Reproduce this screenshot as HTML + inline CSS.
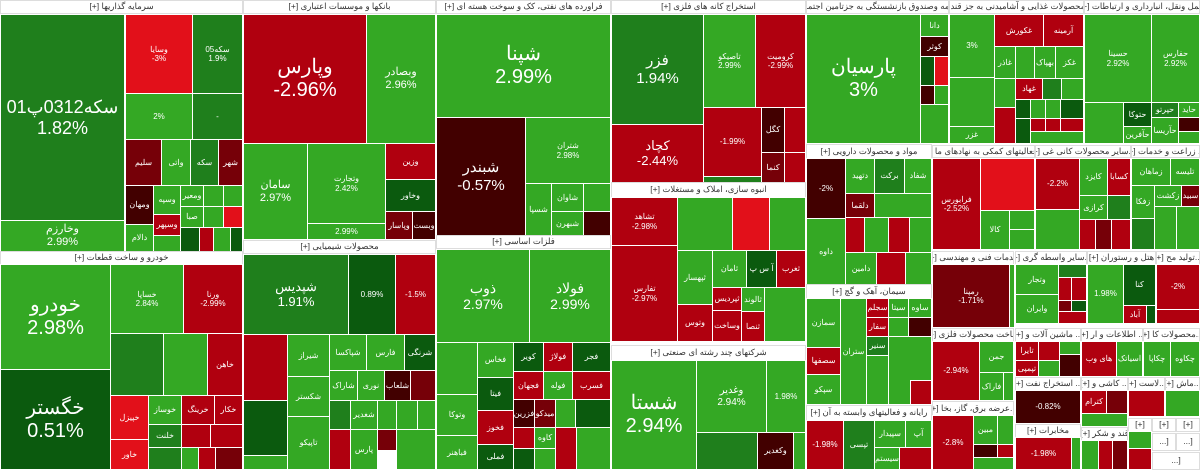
<!DOCTYPE html>
<html><head><meta charset="utf-8"><style>
body{margin:0;width:1200px;height:470px;overflow:hidden;background:#fff;position:relative;font-family:"Liberation Sans","Noto Sans CJK SC",sans-serif}
div{position:absolute;box-sizing:border-box;border:1px solid #fff;color:#fff;display:flex;align-items:center;justify-content:center;text-align:center;overflow:hidden;font-size:8px;line-height:1.15;direction:ltr}
.h{background:#fff;color:#333;font-size:8.5px;border:1px solid #ddd;white-space:nowrap;direction:rtl}
.G{background:#34a824}.g2{background:#1f7f1c}.g3{background:#0b5a0e}
.R{background:#b0000f}.R2{background:#e2101a}.r3{background:#760008}.r4{background:#420000}
.b{font-size:20px}.m{font-size:11px}
</style></head><body>
<!-- col1 -->
<div class="h" style="left:0;top:0;width:243px;height:14px">سرمایه گذاریها [+]</div>
<div class="g2 b" style="left:0;top:14px;width:125px;height:207px;font-size:18px">سکه0312پ01<br>1.82%</div>
<div class="G m" style="left:0;top:220px;width:125px;height:32px">وخارزم<br>2.99%</div>
<div class="R2" style="left:125px;top:14px;width:68px;height:80px">وسایا<br>-3%</div>
<div class="g2" style="left:192px;top:14px;width:51px;height:80px">سکه05<br>1.9%</div>
<div class="G" style="left:125px;top:93px;width:68px;height:47px">2%</div>
<div class="g2" style="left:192px;top:93px;width:51px;height:47px">-</div>
<div class="r3" style="left:125px;top:139px;width:37px;height:47px">سلیم</div>
<div class="G" style="left:161px;top:139px;width:30px;height:47px">واتی</div>
<div class="g2" style="left:190px;top:139px;width:29px;height:47px">سکه</div>
<div class="r3" style="left:218px;top:139px;width:25px;height:47px">شهر</div>
<div class="r4" style="left:125px;top:185px;width:29px;height:40px">ومهان</div>
<div class="G" style="left:125px;top:224px;width:29px;height:28px">دالام</div>
<div class="G" style="left:153px;top:185px;width:28px;height:30px">وسپه</div>
<div class="R" style="left:153px;top:214px;width:28px;height:22px">وسپهر</div>
<div class="G" style="left:153px;top:235px;width:28px;height:17px"></div>
<div class="G" style="left:180px;top:185px;width:24px;height:22px">ومعیر</div>
<div class="G" style="left:203px;top:185px;width:21px;height:22px"></div>
<div class="G" style="left:223px;top:185px;width:20px;height:22px"></div>
<div class="G" style="left:180px;top:206px;width:24px;height:22px">صبا</div>
<div class="G" style="left:203px;top:206px;width:21px;height:22px"></div>
<div class="R2" style="left:223px;top:206px;width:20px;height:22px"></div>
<div class="g3" style="left:180px;top:227px;width:20px;height:25px"></div>
<div class="R" style="left:199px;top:227px;width:15px;height:25px"></div>
<div class="G" style="left:213px;top:227px;width:18px;height:25px"></div>
<div class="g3" style="left:230px;top:227px;width:13px;height:25px"></div>
<div class="h" style="left:0;top:251px;width:243px;height:14px">خودرو و ساخت قطعات [+]</div>
<div class="G b" style="left:0;top:264px;width:111px;height:106px">خودرو<br>2.98%</div>
<div class="g3 b" style="left:0;top:369px;width:111px;height:101px">خگستر<br>0.51%</div>
<div class="G" style="left:110px;top:264px;width:74px;height:70px">خساپا<br>2.84%</div>
<div class="R" style="left:183px;top:264px;width:60px;height:70px">ورنا<br>-2.99%</div>
<div class="g2" style="left:110px;top:333px;width:54px;height:63px"></div>
<div class="G" style="left:163px;top:333px;width:45px;height:63px"></div>
<div class="R" style="left:207px;top:333px;width:36px;height:63px">خاهن</div>
<div class="R2" style="left:110px;top:395px;width:39px;height:45px">خپیزل</div>
<div class="R2" style="left:110px;top:439px;width:39px;height:31px">خاور</div>
<div class="G" style="left:148px;top:395px;width:34px;height:30px">خوساز</div>
<div class="R" style="left:181px;top:395px;width:34px;height:30px">خرینگ</div>
<div class="R" style="left:214px;top:395px;width:29px;height:30px">خکار</div>
<div class="g2" style="left:148px;top:424px;width:34px;height:24px">خلنت</div>
<div class="R" style="left:181px;top:424px;width:30px;height:24px"></div>
<div class="R" style="left:210px;top:424px;width:33px;height:24px"></div>
<div class="g2" style="left:148px;top:447px;width:34px;height:23px"></div>
<div class="G" style="left:181px;top:447px;width:18px;height:23px"></div>
<div class="R" style="left:198px;top:447px;width:18px;height:23px"></div>
<div class="r3" style="left:215px;top:447px;width:28px;height:23px"></div>
<!-- col2 -->
<div class="h" style="left:243px;top:0;width:193px;height:14px">بانکها و موسسات اعتباری [+]</div>
<div class="R b" style="left:243px;top:14px;width:124px;height:130px">وپارس<br>-2.96%</div>
<div class="G m" style="left:366px;top:14px;width:70px;height:130px">وبصادر<br>2.96%</div>
<div class="G m" style="left:243px;top:143px;width:65px;height:97px">سامان<br>2.97%</div>
<div class="G" style="left:307px;top:143px;width:79px;height:81px">وتجارت<br>2.42%</div>
<div class="G" style="left:307px;top:223px;width:79px;height:17px">2.99%</div>
<div class="R" style="left:385px;top:143px;width:51px;height:37px">وزین</div>
<div class="g3" style="left:385px;top:179px;width:51px;height:33px">وخاور</div>
<div class="r3" style="left:385px;top:211px;width:28px;height:29px">وپاسار</div>
<div class="r4" style="left:412px;top:211px;width:24px;height:29px">وبست</div>
<div class="h" style="left:243px;top:240px;width:193px;height:14px">محصولات شیمیایی [+]</div>
<div class="g2" style="left:243px;top:254px;width:106px;height:81px;font-size:13px">شپدیس<br>1.91%</div>
<div class="g3" style="left:348px;top:254px;width:48px;height:81px">0.89%</div>
<div class="R" style="left:395px;top:254px;width:41px;height:81px">-1.5%</div>
<div class="R" style="left:243px;top:334px;width:45px;height:67px"></div>
<div class="g3" style="left:243px;top:400px;width:45px;height:56px"></div>
<div class="G" style="left:243px;top:455px;width:45px;height:15px"></div>
<div class="G" style="left:287px;top:334px;width:43px;height:43px">شیراز</div>
<div class="G" style="left:287px;top:376px;width:43px;height:41px">شکستر</div>
<div class="G" style="left:287px;top:416px;width:43px;height:54px">تاپیکو</div>
<div class="G" style="left:329px;top:334px;width:38px;height:37px">شپاکسا</div>
<div class="G" style="left:366px;top:334px;width:39px;height:37px">فارس</div>
<div class="g3" style="left:404px;top:334px;width:32px;height:37px">شرنگی</div>
<div class="G" style="left:329px;top:370px;width:29px;height:31px">شاراک</div>
<div class="G" style="left:357px;top:370px;width:28px;height:31px">نوری</div>
<div class="r4" style="left:384px;top:370px;width:27px;height:31px">شلعاب</div>
<div class="r3" style="left:410px;top:370px;width:26px;height:31px"></div>
<div class="g2" style="left:329px;top:400px;width:22px;height:30px"></div>
<div class="G" style="left:350px;top:400px;width:28px;height:30px">شغدیر</div>
<div class="G" style="left:377px;top:400px;width:20px;height:30px"></div>
<div class="G" style="left:396px;top:400px;width:22px;height:30px"></div>
<div class="G" style="left:417px;top:400px;width:19px;height:30px"></div>
<div class="R" style="left:329px;top:429px;width:22px;height:41px"></div>
<div class="G" style="left:350px;top:429px;width:28px;height:41px">پارس</div>
<div class="r3" style="left:377px;top:429px;width:20px;height:22px"></div>
<div class="G" style="left:396px;top:429px;width:40px;height:41px"></div>
<!-- col3 -->
<div class="h" style="left:436px;top:0;width:175px;height:14px">فراورده های نفتی، کک و سوخت هسته ای [+]</div>
<div class="G b" style="left:436px;top:14px;width:175px;height:104px">شپنا<br>2.99%</div>
<div class="r4" style="left:436px;top:117px;width:90px;height:119px;font-size:15px">شبندر<br>-0.57%</div>
<div class="G" style="left:525px;top:117px;width:86px;height:67px">شتران<br>2.98%</div>
<div class="G" style="left:525px;top:183px;width:27px;height:53px">شسپا</div>
<div class="G" style="left:551px;top:183px;width:33px;height:29px">شاوان</div>
<div class="G" style="left:551px;top:211px;width:33px;height:25px">شبهرن</div>
<div class="G" style="left:583px;top:183px;width:28px;height:29px"></div>
<div class="r4" style="left:583px;top:211px;width:28px;height:25px"></div>
<div class="h" style="left:436px;top:235px;width:175px;height:14px">فلزات اساسی [+]</div>
<div class="G" style="left:436px;top:249px;width:94px;height:94px;font-size:14px">ذوب<br>2.97%</div>
<div class="G" style="left:529px;top:249px;width:82px;height:94px;font-size:14px">فولاد<br>2.99%</div>
<div class="G" style="left:436px;top:342px;width:42px;height:53px"></div>
<div class="G" style="left:436px;top:394px;width:42px;height:42px">وتوکا</div>
<div class="G" style="left:436px;top:435px;width:42px;height:35px">فباهنر</div>
<div class="G" style="left:477px;top:342px;width:37px;height:36px">فخاس</div>
<div class="g3" style="left:477px;top:377px;width:37px;height:34px">فیتا</div>
<div class="R" style="left:477px;top:410px;width:37px;height:35px">فخوز</div>
<div class="g3" style="left:477px;top:444px;width:37px;height:26px">فملی</div>
<div class="g3" style="left:513px;top:342px;width:31px;height:30px">کویر</div>
<div class="R" style="left:543px;top:342px;width:30px;height:30px">فولاژ</div>
<div class="g3" style="left:572px;top:342px;width:39px;height:30px">فجر</div>
<div class="R" style="left:513px;top:371px;width:31px;height:29px">فجهان</div>
<div class="G" style="left:543px;top:371px;width:30px;height:29px">فوله</div>
<div class="R" style="left:572px;top:371px;width:39px;height:29px">فسرب</div>
<div class="r4" style="left:513px;top:399px;width:22px;height:29px">فزرین</div>
<div class="r3" style="left:534px;top:399px;width:22px;height:29px">میدکو</div>
<div class="G" style="left:555px;top:399px;width:21px;height:29px"></div>
<div class="g3" style="left:575px;top:399px;width:36px;height:29px"></div>
<div class="R" style="left:513px;top:427px;width:22px;height:22px"></div>
<div class="g3" style="left:513px;top:448px;width:22px;height:22px"></div>
<div class="G" style="left:534px;top:427px;width:22px;height:22px">کاوه</div>
<div class="G" style="left:534px;top:448px;width:22px;height:22px"></div>
<div class="R" style="left:555px;top:427px;width:22px;height:43px"></div>
<div class="G" style="left:576px;top:427px;width:35px;height:43px"></div>
<!-- col4 -->
<div class="h" style="left:611px;top:0;width:195px;height:14px">استخراج کانه های فلزی [+]</div>
<div class="g2" style="left:611px;top:14px;width:93px;height:111px;font-size:15px">فزر<br>1.94%</div>
<div class="G" style="left:703px;top:14px;width:53px;height:94px">تاصیکو<br>2.99%</div>
<div class="R" style="left:755px;top:14px;width:51px;height:94px">کرومیت<br>-2.99%</div>
<div class="R" style="left:611px;top:124px;width:93px;height:60px;font-size:13px">کچاد<br>-2.44%</div>
<div class="R" style="left:703px;top:107px;width:59px;height:70px">-1.99%</div>
<div class="r4" style="left:761px;top:107px;width:24px;height:46px">کگل</div>
<div class="R" style="left:784px;top:107px;width:22px;height:46px"></div>
<div class="r3" style="left:761px;top:152px;width:24px;height:32px">کنما</div>
<div class="R" style="left:784px;top:152px;width:22px;height:32px"></div>
<div class="g2" style="left:703px;top:176px;width:59px;height:8px"></div>
<div class="h" style="left:611px;top:182px;width:195px;height:16px">انبوه سازی، املاک و مستغلات [+]</div>
<div class="R" style="left:611px;top:197px;width:67px;height:49px">تشاهد<br>-2.98%</div>
<div class="R" style="left:611px;top:245px;width:67px;height:97px">تفارس<br>-2.97%</div>
<div class="G" style="left:677px;top:197px;width:56px;height:54px"></div>
<div class="R2" style="left:732px;top:197px;width:38px;height:54px"></div>
<div class="G" style="left:769px;top:197px;width:37px;height:54px"></div>
<div class="G" style="left:677px;top:250px;width:36px;height:55px">ثپهسار</div>
<div class="R" style="left:677px;top:304px;width:36px;height:38px">وتوس</div>
<div class="G" style="left:712px;top:250px;width:35px;height:38px">ثامان</div>
<div class="g3" style="left:746px;top:250px;width:31px;height:38px">آ س پ</div>
<div class="R" style="left:776px;top:250px;width:30px;height:38px">ثغرب</div>
<div class="R" style="left:712px;top:287px;width:30px;height:24px">ثپردیس</div>
<div class="R" style="left:712px;top:310px;width:30px;height:32px">وساخت</div>
<div class="G" style="left:741px;top:287px;width:24px;height:25px">ثالوند</div>
<div class="R" style="left:741px;top:311px;width:24px;height:31px">ثنصا</div>
<div class="G" style="left:764px;top:287px;width:42px;height:55px"></div>
<div class="h" style="left:611px;top:345px;width:195px;height:16px">شرکتهای چند رشته ای صنعتی [+]</div>
<div class="G b" style="left:611px;top:360px;width:86px;height:110px">شستا<br>2.94%</div>
<div class="G" style="left:696px;top:360px;width:71px;height:73px;font-size:10px">وغدیر<br>2.94%</div>
<div class="G" style="left:766px;top:360px;width:40px;height:73px">1.98%</div>
<div class="g2" style="left:696px;top:432px;width:62px;height:38px"></div>
<div class="r4" style="left:757px;top:432px;width:37px;height:38px">وکغدیر</div>
<div class="G" style="left:793px;top:432px;width:13px;height:38px"></div>
<!-- col5 -->
<div class="h" style="left:806px;top:0;width:143px;height:14px">...بیمه وصندوق بازنشستگی به جزتامین اجتما [+]</div>
<div class="G b" style="left:806px;top:14px;width:115px;height:130px">پارسیان<br>3%</div>
<div class="G" style="left:920px;top:14px;width:29px;height:23px">دانا</div>
<div class="r4" style="left:920px;top:36px;width:29px;height:21px">کوثر</div>
<div class="g3" style="left:920px;top:56px;width:15px;height:30px"></div>
<div class="R2" style="left:934px;top:56px;width:15px;height:30px"></div>
<div class="r4" style="left:920px;top:85px;width:15px;height:20px"></div>
<div class="G" style="left:934px;top:85px;width:15px;height:20px"></div>
<div class="G" style="left:920px;top:104px;width:29px;height:40px"></div>
<div class="h" style="left:806px;top:144px;width:126px;height:15px">مواد و محصولات دارویی [+]</div>
<div class="r4" style="left:806px;top:158px;width:40px;height:61px">-2%</div>
<div class="G" style="left:806px;top:218px;width:40px;height:67px">داوه</div>
<div class="G" style="left:845px;top:158px;width:30px;height:36px">دتهید</div>
<div class="g2" style="left:874px;top:158px;width:31px;height:36px">برکت</div>
<div class="G" style="left:904px;top:158px;width:28px;height:36px">شفاد</div>
<div class="r3" style="left:845px;top:193px;width:30px;height:25px">دلقما</div>
<div class="G" style="left:874px;top:193px;width:58px;height:25px"></div>
<div class="R" style="left:845px;top:217px;width:20px;height:36px"></div>
<div class="G" style="left:864px;top:217px;width:25px;height:36px"></div>
<div class="R" style="left:888px;top:217px;width:22px;height:36px"></div>
<div class="G" style="left:909px;top:217px;width:23px;height:36px"></div>
<div class="G" style="left:845px;top:252px;width:32px;height:33px">دامین</div>
<div class="R" style="left:876px;top:252px;width:30px;height:33px"></div>
<div class="G" style="left:905px;top:252px;width:27px;height:33px"></div>
<div class="h" style="left:806px;top:284px;width:126px;height:15px">سیمان، آهک و گچ [+]</div>
<div class="G" style="left:806px;top:298px;width:35px;height:50px">سمازن</div>
<div class="R" style="left:806px;top:347px;width:35px;height:28px">سصفها</div>
<div class="G" style="left:806px;top:374px;width:35px;height:31px">سپکو</div>
<div class="G" style="left:840px;top:298px;width:27px;height:107px">ستران</div>
<div class="R" style="left:866px;top:298px;width:23px;height:20px">سجلم</div>
<div class="G" style="left:888px;top:298px;width:21px;height:20px">سیتا</div>
<div class="G" style="left:908px;top:298px;width:24px;height:20px">ساوه</div>
<div class="R" style="left:866px;top:317px;width:23px;height:20px">سفار</div>
<div class="G" style="left:888px;top:317px;width:21px;height:20px"></div>
<div class="r4" style="left:908px;top:317px;width:24px;height:20px"></div>
<div class="g2" style="left:866px;top:336px;width:23px;height:20px">سنیر</div>
<div class="G" style="left:888px;top:336px;width:44px;height:69px"></div>
<div class="G" style="left:866px;top:355px;width:23px;height:50px"></div>
<div class="R" style="left:910px;top:380px;width:22px;height:25px"></div>
<div class="h" style="left:806px;top:405px;width:126px;height:16px">رایانه و فعالیتهای وابسته به آن [+]</div>
<div class="R" style="left:806px;top:420px;width:38px;height:50px">-1.98%</div>
<div class="g2" style="left:843px;top:420px;width:32px;height:50px">تپسی</div>
<div class="G" style="left:874px;top:420px;width:32px;height:28px">سپیدار</div>
<div class="G" style="left:905px;top:420px;width:27px;height:28px">آپ</div>
<div class="G" style="left:874px;top:447px;width:26px;height:23px">سیستم</div>
<div class="R" style="left:899px;top:447px;width:33px;height:23px"></div>
<!-- col6 food -->
<div class="h" style="left:949px;top:0;width:135px;height:14px">... محصولات غذایی و آشامیدنی به جز قند [+]</div>
<div class="G" style="left:949px;top:14px;width:46px;height:64px">3%</div>
<div class="G" style="left:949px;top:77px;width:46px;height:50px"></div>
<div class="G" style="left:949px;top:126px;width:46px;height:18px">غزر</div>
<div class="R" style="left:994px;top:14px;width:50px;height:33px">غکورش</div>
<div class="R" style="left:1043px;top:14px;width:41px;height:33px">آرمینه</div>
<div class="G" style="left:994px;top:46px;width:22px;height:33px">غاذر</div>
<div class="G" style="left:1015px;top:46px;width:20px;height:33px"></div>
<div class="G" style="left:1034px;top:46px;width:22px;height:33px">بهپاک</div>
<div class="G" style="left:1055px;top:46px;width:29px;height:33px">غکز</div>
<div class="G" style="left:994px;top:78px;width:22px;height:30px"></div>
<div class="R" style="left:1015px;top:78px;width:28px;height:22px">غهاد</div>
<div class="g2" style="left:1042px;top:78px;width:20px;height:22px"></div>
<div class="G" style="left:1061px;top:78px;width:23px;height:22px"></div>
<div class="R" style="left:994px;top:107px;width:22px;height:37px"></div>
<div class="g3" style="left:1015px;top:99px;width:16px;height:20px"></div>
<div class="G" style="left:1030px;top:99px;width:16px;height:20px"></div>
<div class="G" style="left:1045px;top:99px;width:16px;height:20px"></div>
<div class="g3" style="left:1060px;top:99px;width:24px;height:20px"></div>
<div class="g3" style="left:1015px;top:118px;width:16px;height:26px"></div>
<div class="R" style="left:1030px;top:118px;width:16px;height:14px"></div>
<div class="R" style="left:1045px;top:118px;width:16px;height:14px"></div>
<div class="R" style="left:1060px;top:118px;width:24px;height:14px"></div>
<div class="G" style="left:1030px;top:131px;width:54px;height:13px"></div>
<!-- col7 transport -->
<div class="h" style="left:1084px;top:0;width:116px;height:14px">حمل ونقل، انبارداری و ارتباطات [+]</div>
<div class="G" style="left:1084px;top:14px;width:68px;height:89px">حسینا<br>2.92%</div>
<div class="G" style="left:1151px;top:14px;width:49px;height:89px">حفارس<br>2.92%</div>
<div class="G" style="left:1084px;top:102px;width:40px;height:42px"></div>
<div class="g3" style="left:1123px;top:102px;width:29px;height:25px">حتوکا</div>
<div class="G" style="left:1123px;top:126px;width:29px;height:18px">حآفرین</div>
<div class="g2" style="left:1151px;top:102px;width:28px;height:16px">حپرتو</div>
<div class="G" style="left:1178px;top:102px;width:22px;height:16px">حاید</div>
<div class="G" style="left:1151px;top:117px;width:28px;height:27px">حآریسا</div>
<div class="r4" style="left:1178px;top:117px;width:22px;height:15px"></div>
<div class="G" style="left:1178px;top:131px;width:22px;height:13px"></div>
<!-- row2 right -->
<div class="h" style="left:932px;top:145px;width:103px;height:13px">...فعالیتهای کمکی به نهادهای ما [+]</div>
<div class="R" style="left:932px;top:158px;width:49px;height:92px">فرابورس<br>-2.52%</div>
<div class="R2" style="left:980px;top:158px;width:55px;height:53px"></div>
<div class="G" style="left:980px;top:210px;width:30px;height:40px">کالا</div>
<div class="G" style="left:1009px;top:210px;width:26px;height:20px"></div>
<div class="G" style="left:1009px;top:229px;width:26px;height:21px"></div>
<div class="h" style="left:1035px;top:145px;width:96px;height:13px">...سایر محصولات کانی غی [+]</div>
<div class="R" style="left:1035px;top:158px;width:45px;height:52px">-2.2%</div>
<div class="G" style="left:1035px;top:209px;width:45px;height:41px"></div>
<div class="G" style="left:1079px;top:158px;width:29px;height:38px">کایزد</div>
<div class="R" style="left:1107px;top:158px;width:24px;height:38px">کسابا</div>
<div class="G" style="left:1079px;top:195px;width:29px;height:25px">کرازی</div>
<div class="g2" style="left:1107px;top:195px;width:24px;height:25px"></div>
<div class="R" style="left:1079px;top:219px;width:17px;height:31px"></div>
<div class="r3" style="left:1095px;top:219px;width:17px;height:31px"></div>
<div class="R" style="left:1111px;top:219px;width:20px;height:31px"></div>
<div class="h" style="left:1131px;top:145px;width:69px;height:13px">... زراعت و خدمات [+]</div>
<div class="G" style="left:1131px;top:158px;width:40px;height:28px">زماهان</div>
<div class="G" style="left:1170px;top:158px;width:30px;height:28px">تلیسه</div>
<div class="G" style="left:1131px;top:185px;width:24px;height:34px">زفکا</div>
<div class="G" style="left:1154px;top:185px;width:28px;height:22px">زکشت</div>
<div class="r3" style="left:1181px;top:185px;width:19px;height:22px">سبید</div>
<div class="g2" style="left:1131px;top:218px;width:24px;height:32px"></div>
<div class="G" style="left:1154px;top:206px;width:23px;height:44px"></div>
<div class="G" style="left:1176px;top:206px;width:24px;height:44px"></div>
<div class="h" style="left:932px;top:251px;width:82px;height:14px">خدمات فنی و مهندسی [+]</div>
<div class="r3" style="left:932px;top:264px;width:78px;height:64px">رمپنا<br>-1.71%</div>
<div class="G" style="left:1009px;top:264px;width:6px;height:64px"></div>
<div class="h" style="left:1015px;top:251px;width:72px;height:14px">...سایر واسطه گری [+]</div>
<div class="G" style="left:1015px;top:264px;width:44px;height:31px">وتجار</div>
<div class="G" style="left:1015px;top:294px;width:44px;height:30px">وایران</div>
<div class="g2" style="left:1058px;top:264px;width:29px;height:14px"></div>
<div class="R" style="left:1058px;top:277px;width:14px;height:24px"></div>
<div class="R" style="left:1071px;top:277px;width:16px;height:24px"></div>
<div class="r3" style="left:1058px;top:300px;width:14px;height:12px"></div>
<div class="g3" style="left:1071px;top:300px;width:16px;height:12px"></div>
<div class="R" style="left:1058px;top:311px;width:29px;height:13px"></div>
<div class="h" style="left:1087px;top:251px;width:69px;height:14px">هتل و رستوران [+]</div>
<div class="G" style="left:1087px;top:264px;width:37px;height:60px">1.98%</div>
<div class="g3" style="left:1123px;top:264px;width:33px;height:42px">کنا</div>
<div class="R" style="left:1123px;top:305px;width:24px;height:19px">آباد</div>
<div class="g3" style="left:1146px;top:305px;width:10px;height:19px"></div>
<div class="h" style="left:1156px;top:251px;width:44px;height:14px">...تولید مح [+]</div>
<div class="R" style="left:1156px;top:264px;width:44px;height:46px">-2%</div>
<div class="R" style="left:1156px;top:309px;width:44px;height:15px"></div>
<div class="h" style="left:932px;top:328px;width:82px;height:14px">ساخت محصولات فلزی [+]</div>
<div class="R" style="left:932px;top:341px;width:48px;height:60px">-2.94%</div>
<div class="G" style="left:979px;top:341px;width:35px;height:32px">جمن</div>
<div class="G" style="left:979px;top:372px;width:25px;height:29px">فاراک</div>
<div class="G" style="left:1003px;top:372px;width:11px;height:29px"></div>
<div class="h" style="left:932px;top:401px;width:82px;height:15px">...عرضه برق، گاز، بخا [+]</div>
<div class="R" style="left:932px;top:415px;width:42px;height:55px">-2.8%</div>
<div class="G" style="left:973px;top:415px;width:25px;height:30px">مبین</div>
<div class="G" style="left:997px;top:415px;width:17px;height:30px"></div>
<div class="r4" style="left:973px;top:444px;width:25px;height:14px"></div>
<div class="R" style="left:997px;top:444px;width:17px;height:14px"></div>
<div class="G" style="left:973px;top:457px;width:41px;height:13px"></div>
<div class="h" style="left:1015px;top:328px;width:66px;height:14px">... ماشین آلات و [+]</div>
<div class="R" style="left:1015px;top:341px;width:24px;height:20px">تایرا</div>
<div class="R" style="left:1038px;top:341px;width:22px;height:20px"></div>
<div class="G" style="left:1059px;top:341px;width:22px;height:14px"></div>
<div class="R" style="left:1015px;top:360px;width:24px;height:17px">تپمپی</div>
<div class="G" style="left:1038px;top:360px;width:22px;height:17px"></div>
<div class="r4" style="left:1059px;top:354px;width:22px;height:23px"></div>
<div class="h" style="left:1081px;top:328px;width:62px;height:14px">... اطلاعات و ار [+]</div>
<div class="R" style="left:1081px;top:341px;width:36px;height:36px">های وب</div>
<div class="G" style="left:1116px;top:341px;width:27px;height:36px">اسیاتک</div>
<div class="h" style="left:1143px;top:328px;width:57px;height:14px">...محصولات کا [+]</div>
<div class="G" style="left:1143px;top:341px;width:28px;height:36px">چکاپا</div>
<div class="G" style="left:1170px;top:341px;width:30px;height:36px">چکاوه</div>
<div class="h" style="left:1015px;top:377px;width:66px;height:14px">... استخراج نفت [+]</div>
<div class="r4" style="left:1015px;top:390px;width:66px;height:34px">-0.82%</div>
<div class="h" style="left:1015px;top:424px;width:66px;height:14px">مخابرات [+]</div>
<div class="R" style="left:1015px;top:437px;width:57px;height:33px">-1.98%</div>
<div class="G" style="left:1071px;top:437px;width:10px;height:33px"></div>
<div class="h" style="left:1081px;top:377px;width:47px;height:14px">... کاشی و [+]</div>
<div class="R" style="left:1081px;top:390px;width:26px;height:24px">کترام</div>
<div class="r3" style="left:1106px;top:390px;width:22px;height:24px"></div>
<div class="G" style="left:1081px;top:413px;width:47px;height:14px"></div>
<div class="h" style="left:1081px;top:427px;width:47px;height:14px">قند و شکر [+]</div>
<div class="G" style="left:1081px;top:440px;width:18px;height:30px"></div>
<div class="R" style="left:1098px;top:440px;width:15px;height:30px"></div>
<div class="r3" style="left:1112px;top:440px;width:16px;height:30px"></div>
<div class="h" style="left:1128px;top:377px;width:37px;height:14px">...لاست [+]</div>
<div class="R" style="left:1128px;top:390px;width:37px;height:27px"></div>
<div class="h" style="left:1165px;top:377px;width:35px;height:14px">...ماش [+]</div>
<div class="G" style="left:1165px;top:390px;width:35px;height:27px"></div>
<div class="h" style="left:1128px;top:418px;width:24px;height:14px">[+]</div>
<div class="h" style="left:1152px;top:418px;width:24px;height:14px">[+]</div>
<div class="h" style="left:1176px;top:418px;width:24px;height:14px">[+]</div>
<div class="G" style="left:1128px;top:431px;width:24px;height:18px"></div>
<div class="R" style="left:1128px;top:448px;width:24px;height:22px"></div>
<div class="h" style="left:1152px;top:433px;width:24px;height:18px">[...</div>
<div class="h" style="left:1176px;top:433px;width:24px;height:18px">[...</div>
<div class="h" style="left:1152px;top:452px;width:48px;height:18px">[...</div>
</body></html>
